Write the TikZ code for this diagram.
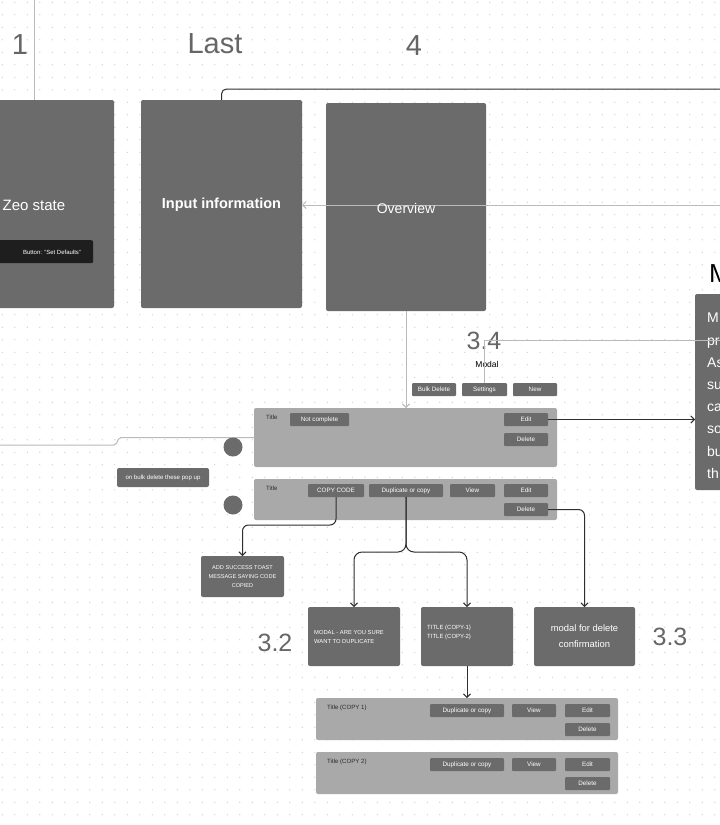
\documentclass[tikz,border=0pt]{standalone}
\usepackage{fontspec}
\setmainfont{Liberation Sans}
\usetikzlibrary{arrows.meta}
\definecolor{boxdark}{HTML}{6B6B6B}
\definecolor{boxlight}{HTML}{A9A9A9}
\definecolor{btnblack}{HTML}{1E1E1E}
\definecolor{lgray}{HTML}{BABABA}
\definecolor{dline}{HTML}{2E2E2E}
\definecolor{numc}{HTML}{666666}
\definecolor{dotc}{HTML}{CFCFCF}
\definecolor{ttl}{HTML}{2A2A2A}
\newcommand{\fsz}[1]{\fontsize{#1}{#1}\selectfont}
\begin{document}
\begin{tikzpicture}[x=1pt,y=-1pt,
  dbox/.style={fill=boxdark,draw=none,rounded corners=2pt,anchor=north west,inner sep=0pt,outer sep=0pt,text=white},
  lbox/.style={fill=boxlight,draw=none,rounded corners=2pt,anchor=north west,inner sep=0pt,outer sep=0pt},
  btn/.style={fill=boxdark,draw=none,rounded corners=1pt,anchor=north west,inner sep=0pt,outer sep=0pt,text=white,font=\fsz{6.3},minimum height=13pt},
  bignum/.style={text=numc,font=\fsz{29},inner sep=0pt},
  midnum/.style={text=numc,font=\fsz{25},inner sep=0pt},
  ttlt/.style={text=ttl,font=\fsz{6.1},anchor=west,inner sep=0pt},
  lgline/.style={draw=lgray,line width=1pt},
  lgarrow/.style={draw=lgray,line width=1pt,-{Straight Barb[length=3.5pt,width=7pt]}},
  dkline/.style={draw=dline,line width=1pt},
  dkarrow/.style={draw=dline,line width=1pt,-{Straight Barb[length=3.5pt,width=7pt]}},
]
\useasboundingbox (0,0) rectangle (720,825);
\clip (0,0) rectangle (720,825);
\fill[white] (0,0) rectangle (720,825);
% dot grid
\foreach \i in {0,...,57}{
  \foreach \j in {0,...,65}{
    \fill[dotc] (2.3+12.5*\i,2.3+12.5*\j) circle (0.65);
  }
}
% headings
\node[bignum] (n1) at (20,45) {1};
\node[bignum] (nlast) at (215,44) {Last};
\node[bignum] (n4) at (414,46) {4};
% top frames
\node[dbox,minimum width=160pt,minimum height=208pt] (zeo) at (-46,100) {};
\node[text=white,font=\fsz{15},inner sep=0pt] (zeot) at (34,205) {Zeo state};
\node[fill=btnblack,rounded corners=2pt,anchor=north west,inner sep=0pt,minimum width=110pt,minimum height=23pt] (setdef) at (-17,240) {};
\node[text=white,font=\fsz{6},inner sep=0pt] (setdeft) at (52,252) {Button: "Set Defaults"};
\node[dbox,minimum width=161pt,minimum height=208pt] (input) at (141,100) {};
\node[text=white,font=\bfseries\fsz{14.5},inner sep=0pt] (inputt) at (221.5,205) {Input information};
\node[dbox,minimum width=160pt,minimum height=208pt] (over) at (326,103) {};
% right box
\node[anchor=base west,font=\fsz{26},inner sep=0pt] (mhead) at (709,282) {M};
\node[dbox,minimum width=90pt,minimum height=196pt] (mbox) at (695,294) {};
\node[anchor=north west,align=left,text=white,font=\fontsize{14}{22.2}\selectfont,inner sep=0pt] (mtext) at (707,313) {M\\pr\\As\\su\\ca\\so\\bu\\th};
% connectors top
\coordinate (topl) at (34,0);
\draw[lgline] (topl) -- (zeo.north);
\coordinate (topr) at (720,89);
\draw[dkline,rounded corners=5pt] (input.north) |- (topr);
\coordinate (ovr) at (720,205);
\draw[lgarrow] (ovr) -- (input.east |- ovr);
\node[text=white,font=\fsz{14},inner sep=0pt] (overt) at (406,208) {Overview};
% 3.4 area
\node[midnum] (n34) at (484,341) {3.4};
\node[font=\fsz{8.5},inner sep=0pt] (modal) at (487,364) {Modal};
\node[btn,minimum width=44pt] (bulk) at (412,383) {Bulk Delete};
\node[btn,minimum width=45pt] (settings) at (462,383) {Settings};
\node[btn,minimum width=44pt] (new) at (513,383) {New};
\coordinate (r34) at (720,340);
\draw[lgline] (settings.north) |- (r34);
% row 1
\node[lbox,minimum width=303pt,minimum height=59pt] (row1) at (254,408) {};
\node[ttlt] (t1) at (266,417) {Title};
\node[btn,minimum width=59pt] (nc) at (290,413) {Not complete};
\node[btn,minimum width=44pt] (edit1) at (504,413) {Edit};
\node[btn,minimum width=44pt] (del1) at (504,433) {Delete};
\draw[lgarrow] (over.south) -- (row1.north -| over.south);
\draw[dkarrow] (edit1.east) -- (mbox.west |- edit1.east);
% left line
\coordinate (l1) at (0,445);
\draw[lgline,rounded corners=2pt] (l1) -- (116,445) -- (119,437.5) -- (row1.west);
\fill[boxdark] (233,447) circle (9.5);
\fill[boxdark] (233,505) circle (9.5);
\node[dbox,minimum width=92pt,minimum height=19pt,font=\fsz{6.1}] (bulkpop) at (117,468) {on bulk delete these pop up};
% row 2
\node[lbox,minimum width=303pt,minimum height=41pt] (row2) at (254,479) {};
\node[ttlt] (t2) at (266,488) {Title};
\node[btn,minimum width=56pt] (copy) at (308,484) {COPY CODE};
\node[btn,minimum width=74pt] (dup) at (369,484) {Duplicate or copy};
\node[btn,minimum width=45pt] (view2) at (450,484) {View};
\node[btn,minimum width=44pt] (edit2) at (504,484) {Edit};
\node[btn,minimum width=44pt] (del2) at (504,503) {Delete};
% lower boxes
\node[dbox,minimum width=83pt,minimum height=41pt,align=center,font=\fontsize{5.6}{9}\selectfont] (toast) at (201,556) {ADD SUCCESS TOAST\\MESSAGE SAYING CODE\\COPIED};
\node[dbox,minimum width=92pt,minimum height=59pt] (mdup) at (308,607) {};
\node[anchor=west,align=left,text=white,font=\fontsize{5.8}{9}\selectfont,inner sep=0pt] (mduptxt) at (314,636.5) {MODAL - ARE YOU SURE\\WANT TO DUPLICATE};
\node[dbox,minimum width=92pt,minimum height=59pt] (titles) at (421,607) {};
\node[anchor=west,align=left,text=white,font=\fontsize{6}{9}\selectfont,inner sep=0pt] (titlestxt) at (427,632.5) {TITLE (COPY-1)\\TITLE (COPY-2)};
\node[dbox,minimum width=101pt,minimum height=59pt,align=center,font=\fontsize{9.4}{16}\selectfont] (delm) at (534,607) {modal for delete\\confirmation};
\node[midnum] (n32) at (275,643) {3.2};
\node[midnum] (n33) at (670,637) {3.3};
% connectors lower
\draw[dkarrow,rounded corners=6pt] (copy.south) -- ++(0,28) -| (toast.north);
\draw[dkarrow,rounded corners=8pt] (dup.south) -- ++(0,55) -| (mdup.north);
\draw[dkarrow,rounded corners=8pt] (dup.south) -- ++(0,55) -| (titles.north);
\draw[dkarrow,rounded corners=6pt] (del2.east) -| (delm.north);
% row 3
\node[lbox,minimum width=302pt,minimum height=42pt] (row3) at (316,698) {};
\node[ttlt] (t3) at (327,708) {Title (COPY 1)};
\node[btn,minimum width=74pt] (dup3) at (430,704) {Duplicate or copy};
\node[btn,minimum width=44pt] (view3) at (512,704) {View};
\node[btn,minimum width=45pt] (edit3) at (565,704) {Edit};
\node[btn,minimum width=45pt] (del3) at (565,723) {Delete};
\draw[dkarrow] (titles.south) -- (row3.north -| titles.south);
% row 4
\node[lbox,minimum width=302pt,minimum height=42pt] (row4) at (316,752) {};
\node[ttlt] (t4) at (327,762) {Title (COPY 2)};
\node[btn,minimum width=74pt] (dup4) at (430,758) {Duplicate or copy};
\node[btn,minimum width=44pt] (view4) at (512,758) {View};
\node[btn,minimum width=45pt] (edit4) at (565,758) {Edit};
\node[btn,minimum width=45pt] (del4) at (565,777) {Delete};
\end{tikzpicture}
\end{document}
